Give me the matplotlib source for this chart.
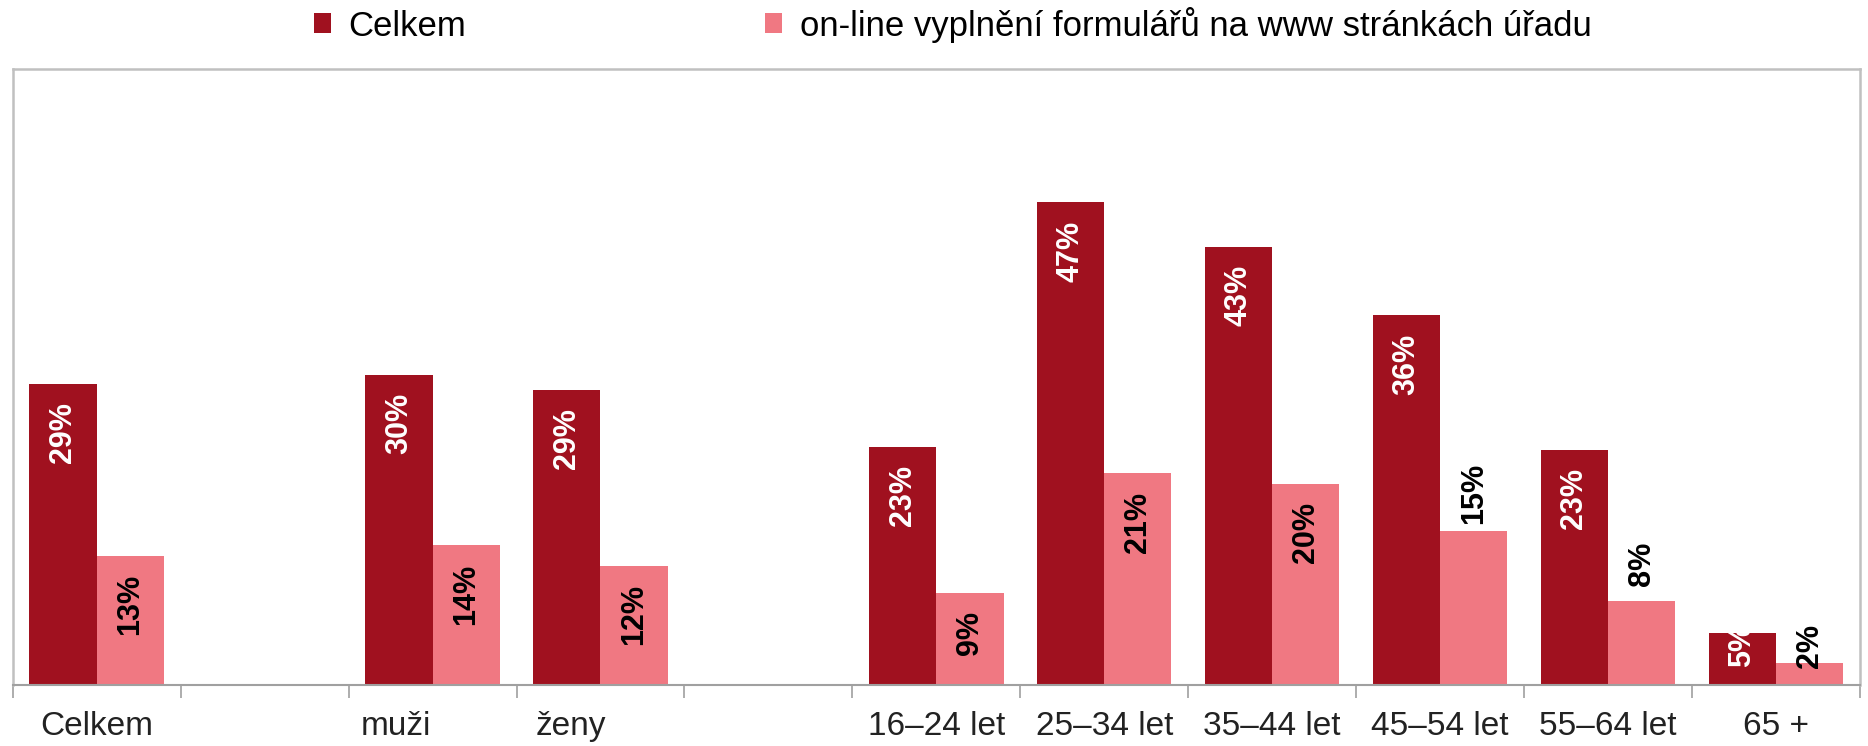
import numpy as np
import matplotlib.pyplot as plt
from matplotlib.transforms import ScaledTranslation

plt.rcParams['font.family'] = ['Liberation Sans', 'DejaVu Sans']

# category slots (empty strings are the gaps between groups)
categories = ['Celkem', '', 'muži', 'ženy', '', '16–24 let', '25–34 let',
              '35–44 let', '45–54 let', '55–64 let', '65 +']
celkem = [29.3, np.nan, 30.2, 28.7, np.nan, 23.2, 47.0, 42.7, 36.0, 22.9, 5.1]
online = [12.6, np.nan, 13.6, 11.6, np.nan, 9.0, 20.6, 19.6, 15.0, 8.2, 2.1]
series_names = ['Celkem', 'on-line vyplnění formulářů na www stránkách úřadu']

dark = '#a0111f'
light = '#f07882'

fig, ax = plt.subplots(figsize=(18.68, 7.46), dpi=100)
fig.subplots_adjust(left=0.0068, right=0.9957, top=0.9075, bottom=0.0818)

x = np.arange(len(categories))
w = 0.4
b1 = ax.bar(x - w/2, celkem, w, color=dark, label=series_names[0])
b2 = ax.bar(x + w/2, online, w, color=light, label=series_names[1])

# label placement: default inside end; a few sit outside like in the original
special = {
    ('online', '45–54 let'): ('bottom', 5),
    ('online', '55–64 let'): ('bottom', 11),
    ('online', '65 +'): ('bottom', -3),
    ('celkem', '65 +'): ('center', -9),
}

for i, cat in enumerate(categories):
    for key, vals, dx, col in [('celkem', celkem, -w/2, 'white'),
                               ('online', online, w/2, 'black')]:
        v = vals[i]
        if np.isnan(v):
            continue
        va, off = special.get((key, cat), ('top', -13))
        ax.annotate(f'{round(v)}%', (x[i] + dx, v), xytext=(0, off),
                    textcoords='offset points', rotation=90, ha='center',
                    va=va, color=col, fontweight='bold', fontsize=22)

ax.set_xlim(-0.5, len(categories) - 0.5)
ax.set_ylim(0, 60)
ax.set_yticks([])

ax.set_xticks(np.arange(-0.5, len(categories), 1))
ax.set_xticklabels([])
ax.set_xticks(x, minor=True)
ax.set_xticklabels(categories, minor=True, fontsize=24, color='#222222')
ax.tick_params(axis='x', which='major', length=9, width=1.2, color='#a0a0a0')
ax.tick_params(axis='x', which='minor', length=0, pad=19)

# muži / ženy labels sit a bit left of their slot centre in the original
shifts = {'muži': -0.37, 'ženy': -0.30}
for lbl in ax.get_xticklabels(minor=True):
    if lbl.get_text() in shifts:
        lbl.set_transform(lbl.get_transform() +
                          ScaledTranslation(shifts[lbl.get_text()], 0, fig.dpi_scale_trans))

for side in ['top', 'left', 'right']:
    ax.spines[side].set_color('#c0c0c0')
    ax.spines[side].set_linewidth(1.8)
ax.spines['bottom'].set_color('#a0a0a0')
ax.spines['bottom'].set_linewidth(1.5)

fig.legend(handles=[b1, b2], loc='center', bbox_to_anchor=(0.51, 0.967),
           ncol=2, frameon=False, fontsize=25, handlelength=0.5,
           handleheight=0.5, handletextpad=0.5, columnspacing=8.6)

fig.savefig('out.png', dpi=100)
